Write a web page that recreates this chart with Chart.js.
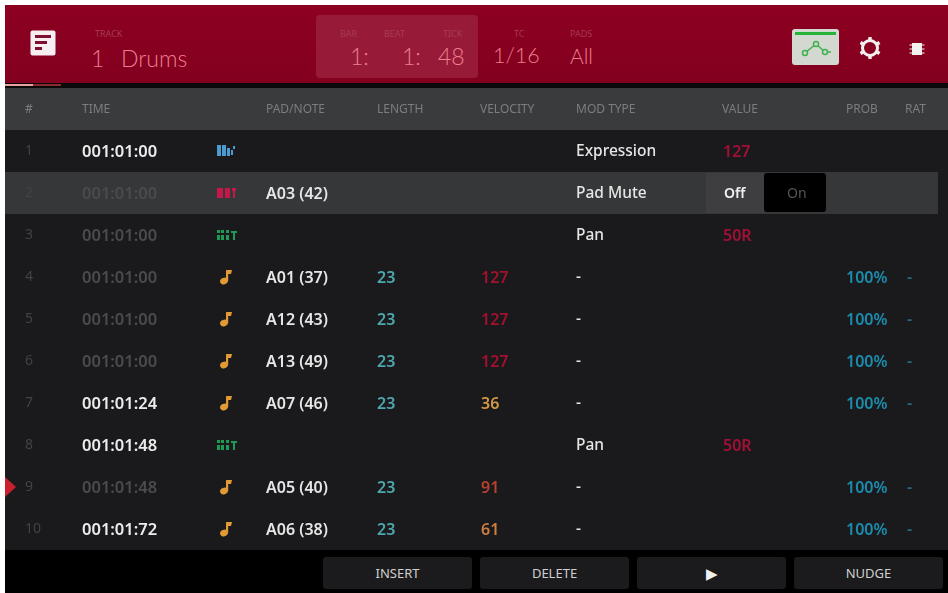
<!DOCTYPE html>
<html>
<head>
<meta charset="utf-8">
<title>List Edit</title>
<script src="https://cdn.jsdelivr.net/npm/chart.js@4"></script>
<style>
    html, body { margin: 0; padding: 0; width: 948px; height: 593px; overflow: hidden; background: #fff; }
    #screen { position: absolute; left: 0; top: 0; width: 948px; height: 593px; filter: blur(0.6px); font-family: "Noto Sans", sans-serif; }
    canvas { position: absolute; left: 0; top: 0; }
    .abs { position: absolute; white-space: nowrap; }
    #topbar { left: 5px; top: 5px; width: 943px; height: 78px; background: linear-gradient(#8d0022, #83001f); }
    #strip { left: 5px; top: 83px; width: 943px; height: 5px; background: #0a0a0a; }
    #tab1 { left: 5px; top: 84px; width: 28px; height: 2px; background: #e8a0a0; }
    #tab2 { left: 33px; top: 84px; width: 28px; height: 2px; background: #8a2a30; }
    #panel { left: 316px; top: 15px; width: 162px; height: 63px; background: #971b39; border-radius: 4px; }
    .small { font-size: 9px; color: #a83a54; }
    .big { font-family: Lato, sans-serif; font-weight: 300; font-size: 23px; color: #ec7f8f; line-height: 28px; }
    .btn { top: 557px; height: 32px; line-height: 32px; width: 149px; background: #1b1b1d; border-radius: 3px; text-align: center; color: #cfcfd0; font-size: 13px; }
    #footer { left: 5px; top: 550px; width: 943px; height: 43px; background: #000; }
</style>
</head>
<body>
<div id="screen">
    <canvas id="listChart" width="948" height="593"></canvas>

    <div class="abs" id="topbar"></div>
    <div class="abs" id="strip"></div>
    <div class="abs" id="tab1"></div>
    <div class="abs" id="tab2"></div>
    <div class="abs" id="panel"></div>

    <svg class="abs" style="left:30px;top:30px" width="27" height="27" viewBox="0 0 27 27">
        <rect x="0.5" y="0.5" width="25" height="25" rx="2" fill="#f6eef0"/>
        <rect x="5" y="5" width="16" height="3" fill="#7d1030"/>
        <rect x="5" y="11" width="12" height="3" fill="#7d1030"/>
        <rect x="5" y="17" width="7" height="3" fill="#7d1030"/>
    </svg>

    <div class="abs small" style="left:95px;top:27px">TRACK</div>
    <div class="abs big" style="left:91px;top:44px">1</div>
    <div class="abs big" style="left:121px;top:44px">Drums</div>

    <div class="abs small" style="left:340px;top:27px">BAR</div>
    <div class="abs small" style="left:384px;top:27px">BEAT</div>
    <div class="abs small" style="left:443px;top:27px">TICK</div>
    <div class="abs big" style="left:350px;top:42px">1:</div>
    <div class="abs big" style="left:402px;top:42px">1:</div>
    <div class="abs big" style="left:438px;top:42px">48</div>

    <div class="abs small" style="left:514px;top:27px">TC</div>
    <div class="abs big" style="left:493px;top:41px;font-size:21.5px">1/16</div>
    <div class="abs small" style="left:570px;top:27px">PADS</div>
    <div class="abs big" style="left:570px;top:42px;font-size:21px">All</div>

    <svg class="abs" style="left:791px;top:28px" width="49" height="38" viewBox="0 0 49 38">
        <rect x="1" y="1" width="47" height="36" rx="3" fill="#d3d8d0"/>
        <rect x="4" y="4" width="41" height="3" fill="#27b23a"/>
        <polyline points="14,25 25,16 34,24 40,24" fill="none" stroke="#3fb34f" stroke-width="1.5"/>
        <circle cx="14" cy="25" r="2.5" fill="#d3d8d0" stroke="#3fb34f" stroke-width="1.5"/>
        <circle cx="25" cy="16" r="2.5" fill="#d3d8d0" stroke="#3fb34f" stroke-width="1.5"/>
        <circle cx="34" cy="24" r="2.5" fill="#d3d8d0" stroke="#3fb34f" stroke-width="1.5"/>
    </svg>

    <svg class="abs" style="left:858px;top:36px" width="24" height="24" viewBox="0 0 24 24">
        <circle cx="12" cy="12" r="7.5" fill="none" stroke="#f5f0f0" stroke-width="3"/>
        <g stroke="#f5f0f0" stroke-width="3.4">
            <line x1="12" y1="1" x2="12" y2="4"/><line x1="12" y1="20" x2="12" y2="23"/>
            <line x1="2.5" y1="6.5" x2="5" y2="8"/><line x1="19" y1="16" x2="21.5" y2="17.5"/>
            <line x1="2.5" y1="17.5" x2="5" y2="16"/><line x1="19" y1="8" x2="21.5" y2="6.5"/>
        </g>
    </svg>
    <svg class="abs" style="left:909px;top:41px" width="16" height="16" viewBox="0 0 16 16">
        <rect x="3" y="2" width="10" height="12" fill="#f5f0f0"/>
        <g stroke="#f5f0f0" stroke-width="1"><line x1="0.5" y1="4" x2="15.5" y2="4"/><line x1="0.5" y1="8" x2="15.5" y2="8"/><line x1="0.5" y1="12" x2="15.5" y2="12"/></g>
    </svg>

    <div class="abs" id="footer"></div>
    <div class="abs btn" style="left:323px">INSERT</div>
    <div class="abs btn" style="left:480px">DELETE</div>
    <div class="abs btn" style="left:637px;font-size:15px;color:#f0f0f0">&#9654;</div>
    <div class="abs btn" style="left:794px">NUDGE</div>
</div>

<script>
// list data, one array per column
const rows = ['1', '2', '3', '4', '5', '6', '7', '8', '9', '10'];
const headers = ['#', 'TIME', 'PAD/NOTE', 'LENGTH', 'VELOCITY', 'MOD TYPE', 'VALUE', 'PROB', 'RAT'];
const times = ['001:01:00', '001:01:00', '001:01:00', '001:01:00', '001:01:00', '001:01:00', '001:01:24', '001:01:48', '001:01:48', '001:01:72'];
const activeRows = ['1', '7', '8', '10'];
const eventTypes = ['expr', 'mute', 'pan', 'note', 'note', 'note', 'note', 'pan', 'note', 'note'];
const pads = [null, 'A03 (42)', null, 'A01 (37)', 'A12 (43)', 'A13 (49)', 'A07 (46)', null, 'A05 (40)', 'A06 (38)'];
const lengths = [null, null, null, 23, 23, 23, 23, null, 23, 23];
const velocities = [null, null, null, 127, 127, 127, 36, null, 91, 61];
const modTypes = ['Expression', 'Pad Mute', 'Pan', '-', '-', '-', '-', 'Pan', '-', '-'];
const modValues = ['127', null, '50R', null, null, null, null, '50R', null, null];
const probs = [null, null, null, '100%', '100%', '100%', '100%', null, '100%', '100%'];
const ratchets = [null, null, null, '-', '-', '-', '-', null, '-', '-'];

const selectedRow = '2';
const playheadRow = '9';

// left edge of each header, in x scale units (the scale runs in screen pixels)
const headerX = [25, 82, 266, 377, 480, 576, 722, 846, 905];
const iconX = 227;

const velocityColors = { 127: '#a3112f', 36: '#d29a45', 91: '#b8402f', 61: '#cc7d3f' };

function makeIcon(type) {
    const c = document.createElement('canvas');
    c.width = 24;
    c.height = 18;
    const g = c.getContext('2d');
    if (type === 'note') {
        g.fillStyle = '#e29a35';
        g.beginPath();
        g.ellipse(9, 13, 4, 3.2, -0.4, 0, Math.PI * 2);
        g.fill();
        g.fillRect(11, 3, 2.2, 10);
        g.beginPath();
        g.moveTo(11, 2);
        g.lineTo(17, 2);
        g.lineTo(16, 6);
        g.lineTo(12, 6);
        g.fill();
    } else if (type === 'expr') {
        g.fillStyle = '#4a9bd0';
        g.fillRect(2, 3, 4, 11);
        g.fillRect(7, 3, 4, 11);
        g.fillRect(12, 6, 3, 8);
        g.fillRect(18, 4, 2, 3);
        g.fillRect(16, 8, 2, 5);
    } else if (type === 'mute') {
        g.fillStyle = '#c4174a';
        g.fillRect(2, 4, 6, 10);
        g.fillRect(10, 4, 5, 10);
        g.fillRect(17, 4, 4, 3);
        g.fillRect(18, 7, 2, 7);
    } else {
        g.fillStyle = '#1f9a55';
        g.fillRect(2, 4, 3, 3);
        g.fillRect(6, 4, 3, 3);
        g.fillRect(11, 4, 3, 3);
        g.fillRect(2, 9, 3, 5);
        g.fillRect(6, 9, 3, 5);
        g.fillRect(11, 9, 3, 5);
        g.fillRect(18, 5, 2, 9);
        g.fillRect(16, 5, 6, 2);
    }
    return c;
}

function timeColor(row) {
    return activeRows.includes(row) ? '#ececec' : '#4b4b4d';
}

// one hidden-point dataset per text column
function textColumn(x, values, color, font) {
    const data = [];
    const labels = [];
    const colors = [];
    values.forEach((v, i) => {
        if (v === null) return;
        data.push({ x: x, y: rows[i] });
        labels.push(String(v));
        colors.push(typeof color === 'function' ? color(v, rows[i]) : color);
    });
    return { data: data, cellText: labels, cellColor: colors, cellFont: font, pointRadius: 0, pointHoverRadius: 0 };
}

const numberFont = '600 16px "Noto Sans", sans-serif';
const wordFont = '500 15.5px "Noto Sans", sans-serif';

const listBackground = {
    id: 'listBackground',
    beforeDraw(chart) {
        const { ctx, chartArea, scales } = chart;
        ctx.save();
        ctx.fillStyle = '#3a3b3d';
        ctx.fillRect(5, 88, 943, chartArea.top - 88);
        ctx.fillStyle = '#1a1a1c';
        ctx.fillRect(chartArea.left, chartArea.top, chartArea.width, chartArea.height);

        // selected row band and its Off/On switch
        const band = 42;
        const y = scales.y.getPixelForValue(selectedRow);
        ctx.fillStyle = '#363739';
        ctx.fillRect(chartArea.left, y - band / 2, 933, band);
        ctx.fillStyle = '#3e3e41';
        ctx.fillRect(706, y - 20, 58, 40);
        ctx.fillStyle = '#000';
        ctx.beginPath();
        ctx.roundRect(764, y - 20, 62, 39, 3);
        ctx.fill();
        ctx.restore();
    }
};

const listText = {
    id: 'listText',
    afterDatasetsDraw(chart) {
        const { ctx, scales } = chart;
        ctx.save();
        ctx.textAlign = 'left';
        ctx.textBaseline = 'middle';
        chart.data.datasets.forEach((ds, d) => {
            if (!ds.cellText) return;
            ctx.font = ds.cellFont;
            chart.getDatasetMeta(d).data.forEach((pt, i) => {
                ctx.fillStyle = ds.cellColor[i];
                ctx.fillText(ds.cellText[i], pt.x, pt.y + 1);
            });
        });

        const y = scales.y.getPixelForValue(selectedRow);
        ctx.font = '600 14px "Noto Sans", sans-serif';
        ctx.fillStyle = '#f2f2f2';
        ctx.fillText('Off', 724, y + 1);
        ctx.font = '400 14px "Noto Sans", sans-serif';
        ctx.fillStyle = '#555557';
        ctx.fillText('On', 787, y + 1);

        // playhead marker
        const py = scales.y.getPixelForValue(playheadRow);
        ctx.fillStyle = '#c9202f';
        ctx.beginPath();
        ctx.moveTo(5, py - 10);
        ctx.lineTo(16, py);
        ctx.lineTo(5, py + 10);
        ctx.fill();
        ctx.restore();
    }
};

const icons = eventTypes.map(makeIcon);

new Chart(document.getElementById('listChart').getContext('2d'), {
    type: 'scatter',
    data: {
        datasets: [
            textColumn(headerX[1], times, (v, row) => timeColor(row), '600 16.5px "Noto Sans", sans-serif'),
            {
                data: rows.map(r => ({ x: iconX, y: r })),
                pointStyle: icons,
                pointRadius: 9
            },
            textColumn(headerX[2], pads, '#e6e6e6', numberFont),
            textColumn(headerX[3], lengths, '#4fa7ae', numberFont),
            textColumn(headerX[4] + 1, velocities, v => velocityColors[v], numberFont),
            textColumn(headerX[5], modTypes, '#e6e6e6', wordFont),
            textColumn(headerX[6] + 1, modValues, '#a30f35', numberFont),
            textColumn(headerX[7], probs, '#1b8cad', numberFont),
            textColumn(headerX[8] + 2, ratchets, '#2b6a7c', numberFont)
        ]
    },
    options: {
        responsive: false,
        animation: false,
        events: [],
        layout: { autoPadding: false, padding: { left: 5, top: 88, right: 0, bottom: 43 } },
        plugins: { legend: { display: false }, tooltip: { enabled: false } },
        scales: {
            x: {
                type: 'linear',
                position: 'top',
                min: 5,
                max: 948,
                grid: { display: false, drawTicks: false },
                border: { display: false },
                afterBuildTicks(scale) {
                    scale.ticks = headerX.map(v => ({ value: v }));
                },
                afterFit(scale) {
                    scale.height = 42;
                    scale.paddingLeft = 0;
                    scale.paddingRight = 0;
                },
                ticks: {
                    autoSkip: false,
                    maxRotation: 0,
                    align: 'start',
                    padding: 13,
                    color: '#7c7d7f',
                    font: { family: '"Noto Sans", sans-serif', size: 12 },
                    callback: (value) => headers[headerX.indexOf(value)]
                }
            },
            y: {
                type: 'category',
                labels: rows,
                offset: true,
                grid: { display: false, drawTicks: false },
                border: { display: false },
                afterFit(scale) {
                    scale.width = 0;
                    scale.paddingTop = 0;
                    scale.paddingBottom = 0;
                },
                ticks: {
                    mirror: true,
                    padding: 20,
                    autoSkip: false,
                    color: '#434345',
                    font: { family: '"Noto Sans", sans-serif', size: 14 }
                }
            }
        }
    },
    plugins: [listBackground, listText]
});
</script>
</body>
</html>
